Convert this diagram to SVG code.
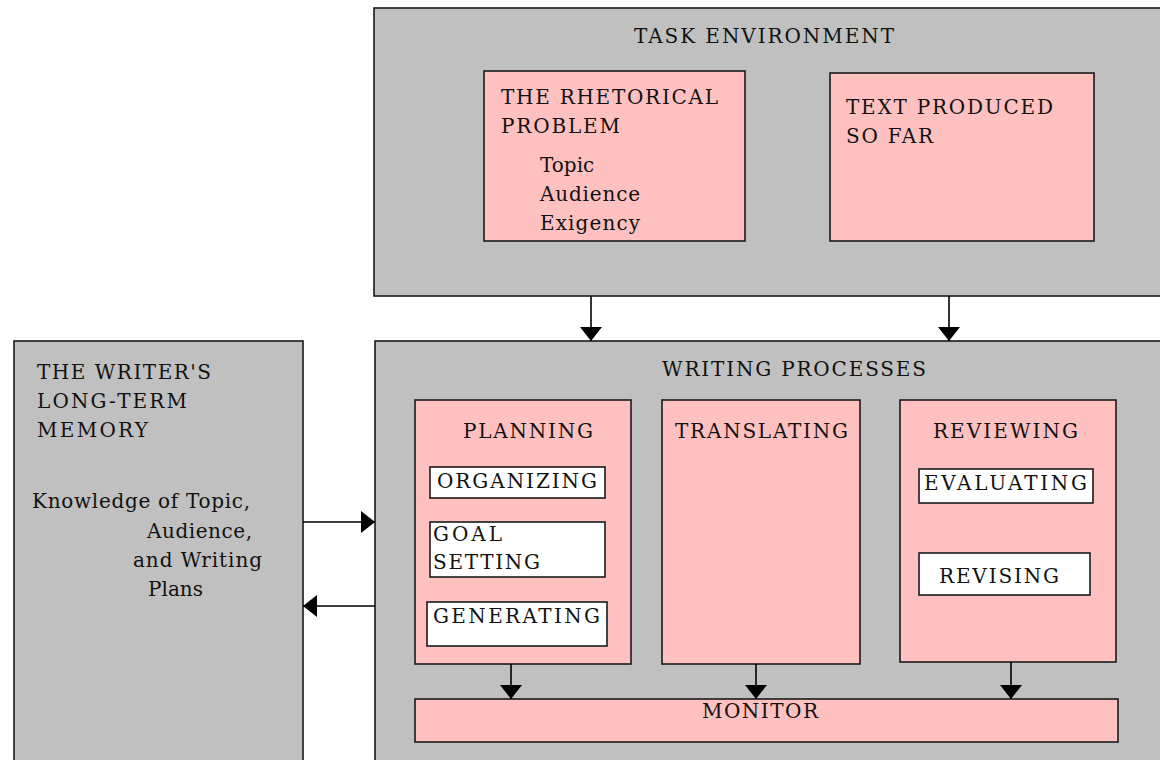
<svg xmlns="http://www.w3.org/2000/svg" width="1160" height="760" viewBox="0 0 1160 760">
<style>
.gray{fill:#c0c0c0;stroke:#1a1a1a;stroke-width:1.6}
.pink{fill:#ffc0c0;stroke:#1a1a1a;stroke-width:1.6}
.white{fill:#ffffff;stroke:#1a1a1a;stroke-width:1.6}
text{font-family:"DejaVu Serif","Liberation Serif",serif;font-size:20px;fill:#111}
.conn line{stroke:#000;stroke-width:1.6}
</style>
<defs>
<marker id="ah" viewBox="0 0 14 22" refX="14" refY="11" markerWidth="14" markerHeight="22" orient="auto" markerUnits="userSpaceOnUse">
<path d="M0,0 L14,11 L0,22 Z" fill="#000"/>
</marker>
</defs>
<rect width="1160" height="760" fill="#ffffff"/>

<g id="task-environment">
<rect class="gray" x="374" y="8" width="790" height="288"/>
<text x="634" y="43" textLength="260" lengthAdjust="spacing">TASK ENVIRONMENT</text>
</g>
<g id="rhetorical-problem">
<rect class="pink" x="484" y="71" width="261" height="170"/>
<text x="501" y="104" textLength="217" lengthAdjust="spacing">THE RHETORICAL</text>
<text x="501" y="133" textLength="119" lengthAdjust="spacing">PROBLEM</text>
<text x="540" y="172">Topic</text>
<text x="540" y="201" textLength="100" lengthAdjust="spacing">Audience</text>
<text x="540" y="230" textLength="100" lengthAdjust="spacing">Exigency</text>
</g>
<g id="text-produced">
<rect class="pink" x="830" y="73" width="264" height="168"/>
<text x="846" y="114" textLength="207" lengthAdjust="spacing">TEXT PRODUCED</text>
<text x="846" y="143" textLength="87" lengthAdjust="spacing">SO FAR</text>
</g>

<g id="long-term-memory">
<rect class="gray" x="14" y="341" width="289" height="430"/>
<text x="37" y="379" textLength="174" lengthAdjust="spacing">THE WRITER'S</text>
<text x="37" y="408" textLength="150" lengthAdjust="spacing">LONG-TERM</text>
<text x="37" y="437" textLength="111" lengthAdjust="spacing">MEMORY</text>
<text x="32" y="508" textLength="218" lengthAdjust="spacing">Knowledge of Topic,</text>
<text x="147" y="538" textLength="105" lengthAdjust="spacing">Audience,</text>
<text x="133" y="567" textLength="129" lengthAdjust="spacing">and Writing</text>
<text x="148" y="596" textLength="55" lengthAdjust="spacing">Plans</text>
</g>

<g id="writing-processes">
<rect class="gray" x="375" y="341" width="790" height="430"/>
<text x="662" y="376" textLength="264" lengthAdjust="spacing">WRITING PROCESSES</text>
</g>
<g id="planning">
<rect class="pink" x="415" y="400" width="216" height="264"/>
<text x="463" y="438" textLength="130" lengthAdjust="spacing">PLANNING</text>
</g>
<g id="organizing">
<rect class="white" x="430" y="467" width="175" height="31"/>
<text x="437" y="488" textLength="160" lengthAdjust="spacing">ORGANIZING</text>
</g>
<g id="goal-setting">
<rect class="white" x="430" y="522" width="175" height="55"/>
<text x="433" y="541" textLength="69" lengthAdjust="spacing">GOAL</text>
<text x="433" y="569" textLength="107" lengthAdjust="spacing">SETTING</text>
</g>
<g id="generating">
<rect class="white" x="427" y="602" width="180" height="44"/>
<text x="433" y="623" textLength="167" lengthAdjust="spacing">GENERATING</text>
</g>
<g id="translating">
<rect class="pink" x="662" y="400" width="198" height="264"/>
<text x="675" y="438" textLength="173" lengthAdjust="spacing">TRANSLATING</text>
</g>
<g id="reviewing">
<rect class="pink" x="900" y="400" width="216" height="262"/>
<text x="933" y="438" textLength="145" lengthAdjust="spacing">REVIEWING</text>
</g>
<g id="evaluating">
<rect class="white" x="919" y="469" width="174" height="34"/>
<text x="924" y="490" textLength="163" lengthAdjust="spacing">EVALUATING</text>
</g>
<g id="revising">
<rect class="white" x="919" y="553" width="171" height="42"/>
<text x="939" y="583" textLength="120" lengthAdjust="spacing">REVISING</text>
</g>
<g id="monitor">
<rect class="pink" x="415" y="699" width="703" height="43"/>
<text x="702" y="718" textLength="116" lengthAdjust="spacing">MONITOR</text>
</g>

<g id="connectors" class="conn">
<line x1="591" y1="296" x2="591" y2="341" marker-end="url(#ah)"/>
<line x1="949" y1="296" x2="949" y2="341" marker-end="url(#ah)"/>
<line x1="303" y1="522" x2="375" y2="522" marker-end="url(#ah)"/>
<line x1="375" y1="606" x2="303" y2="606" marker-end="url(#ah)"/>
<line x1="511" y1="664" x2="511" y2="699" marker-end="url(#ah)"/>
<line x1="756" y1="664" x2="756" y2="699" marker-end="url(#ah)"/>
<line x1="1011" y1="662" x2="1011" y2="699" marker-end="url(#ah)"/>
</g>
</svg>
